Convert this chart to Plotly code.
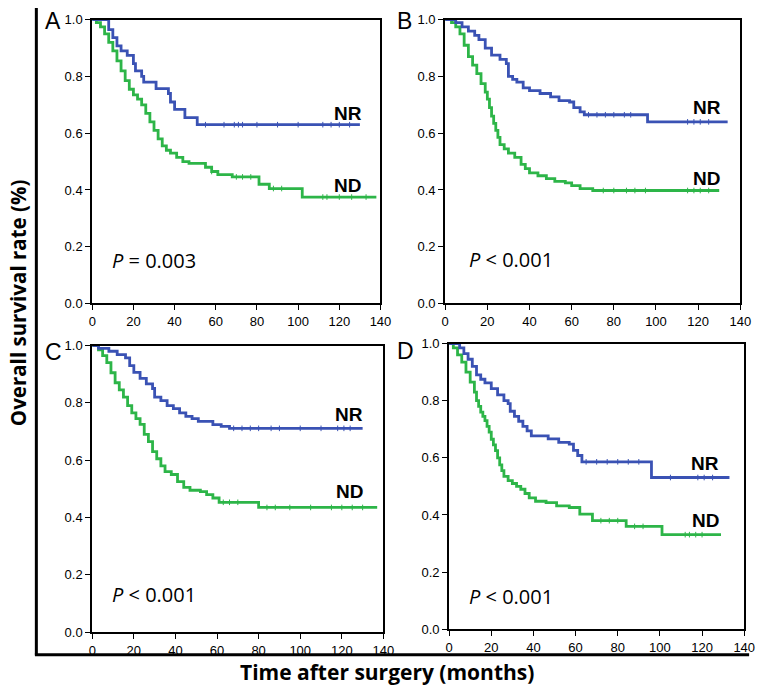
import plotly.graph_objects as go

BLUE = "#3a52b4"
GREEN = "#2db548"

# ---- panel A ----
a_nr_t = [0, 8, 10, 12, 14, 17, 20, 21, 24, 25, 31, 37, 38, 40, 45, 51, 130]
a_nr_s = [1.0, 0.965, 0.937, 0.908, 0.89, 0.874, 0.845, 0.82, 0.80, 0.78, 0.757, 0.74, 0.71, 0.684, 0.655, 0.63, 0.63]
a_nr_cens = [55, 64, 69, 71, 73, 80, 90, 100, 112, 116, 120, 125]
a_nd_t = [0, 2, 4, 6, 8, 10, 12, 14, 16, 18, 20, 22, 24, 26, 28, 30, 32, 34, 36, 38, 41, 44, 47, 55, 58, 61, 68, 81, 86, 102, 138]
a_nd_s = [1.0, 0.99, 0.975, 0.95, 0.92, 0.89, 0.855, 0.82, 0.785, 0.755, 0.735, 0.72, 0.70, 0.67, 0.64, 0.61, 0.58, 0.555, 0.54, 0.53, 0.515, 0.50, 0.494, 0.48, 0.465, 0.454, 0.446, 0.42, 0.405, 0.375, 0.375]
a_nd_cens = [58, 70, 73, 77, 88, 92, 112, 114, 120, 126, 133]

# ---- panel B ----
b_nr_t = [0, 5, 8, 11, 14, 16, 19, 22, 26, 29, 30, 32, 34, 37, 40, 45, 50, 54, 59, 61, 64, 66, 96, 134]
b_nr_s = [1.0, 0.99, 0.975, 0.96, 0.945, 0.93, 0.90, 0.875, 0.86, 0.845, 0.80, 0.79, 0.78, 0.76, 0.75, 0.74, 0.728, 0.715, 0.71, 0.69, 0.675, 0.665, 0.64, 0.64]
b_nr_cens = [68, 72, 76, 80, 85, 88, 115, 118, 121, 125]
b_nd_t = [0, 3, 5, 7, 9, 11, 13, 15, 17, 19, 20, 21, 22, 23, 24, 25, 26, 28, 30, 33, 36, 38, 40, 44, 48, 52, 57, 60, 64, 70, 130]
b_nd_s = [1.0, 0.99, 0.975, 0.95, 0.91, 0.87, 0.84, 0.81, 0.775, 0.745, 0.72, 0.69, 0.66, 0.635, 0.61, 0.585, 0.56, 0.545, 0.53, 0.515, 0.49, 0.475, 0.46, 0.45, 0.44, 0.43, 0.425, 0.415, 0.405, 0.398, 0.398]
b_nd_cens = [75, 80, 86, 90, 95, 115, 118, 121, 125]

# ---- panel C ----
c_nr_t = [0, 3, 8, 12, 16, 18, 20, 23, 26, 29, 30, 33, 36, 39, 42, 45, 48, 51, 58, 62, 66, 130]
c_nr_s = [1.0, 0.99, 0.98, 0.968, 0.957, 0.93, 0.906, 0.885, 0.866, 0.85, 0.82, 0.808, 0.79, 0.78, 0.765, 0.753, 0.745, 0.735, 0.724, 0.718, 0.711, 0.711]
c_nr_cens = [68, 72, 76, 80, 86, 90, 100, 110, 118, 121, 124]
c_nd_t = [0, 3, 5, 7, 9, 11, 13, 15, 17, 19, 21, 23, 25, 27, 29, 31, 33, 35, 38, 41, 44, 47, 52, 55, 58, 61, 80, 137]
c_nd_s = [1.0, 0.985, 0.965, 0.94, 0.905, 0.87, 0.845, 0.82, 0.79, 0.765, 0.745, 0.725, 0.69, 0.665, 0.63, 0.605, 0.58, 0.56, 0.55, 0.525, 0.505, 0.495, 0.49, 0.48, 0.468, 0.453, 0.435, 0.435]
c_nd_cens = [63, 66, 70, 84, 88, 95, 105, 115, 120, 125, 130]

# ---- panel D ----
d_nr_t = [0, 5, 7, 9, 11, 13, 15, 17, 20, 23, 26, 28, 29, 31, 33, 35, 37, 39, 47, 52, 57, 59, 61, 63, 96, 133]
d_nr_s = [1.0, 0.985, 0.965, 0.945, 0.92, 0.89, 0.875, 0.862, 0.842, 0.82, 0.80, 0.79, 0.763, 0.745, 0.728, 0.71, 0.694, 0.677, 0.666, 0.654, 0.648, 0.626, 0.608, 0.586, 0.531, 0.531]
d_nr_cens = [65, 70, 75, 80, 85, 90, 105, 118, 121, 125]
d_nd_t = [0, 2, 4, 6, 8, 10, 12, 13, 14, 15, 16, 17, 18, 19, 20, 21, 22, 23, 24, 25, 26, 28, 30, 32, 34, 36, 38, 41, 46, 51, 57, 62, 68, 84, 101, 129]
d_nd_s = [1.0, 0.985, 0.96, 0.935, 0.90, 0.865, 0.83, 0.80, 0.78, 0.76, 0.745, 0.73, 0.71, 0.69, 0.665, 0.645, 0.625, 0.60, 0.575, 0.555, 0.535, 0.52, 0.51, 0.50, 0.49, 0.475, 0.46, 0.448, 0.443, 0.432, 0.426, 0.403, 0.38, 0.36, 0.331, 0.331]
d_nd_cens = [72, 76, 80, 88, 92, 112, 114, 117, 120]

p_texts = ["<i>P</i> = 0.003", "<i>P</i> &lt; 0.001", "<i>P</i> &lt; 0.001", "<i>P</i> &lt; 0.001"]
letters = ["A", "B", "C", "D"]
x_ticks = [0, 20, 40, 60, 80, 100, 120, 140]
y_ticks = [0.0, 0.2, 0.4, 0.6, 0.8, 1.0]

W, H = 766, 692


def step_at(t, s, x):
    v = s[0]
    for ti, si in zip(t, s):
        if ti <= x:
            v = si
    return v


panels = [
    (a_nr_t, a_nr_s, a_nr_cens, a_nd_t, a_nd_s, a_nd_cens),
    (b_nr_t, b_nr_s, b_nr_cens, b_nd_t, b_nd_s, b_nd_cens),
    (c_nr_t, c_nr_s, c_nr_cens, c_nd_t, c_nd_s, c_nd_cens),
    (d_nr_t, d_nr_s, d_nr_cens, d_nd_t, d_nd_s, d_nd_cens),
]

# plot boxes in pixels (left, top, right, bottom)
boxes = [(90, 13, 384, 303), (450, 13, 751, 303), (90, 346, 387, 639), (454, 344, 755, 636)]
# NR / ND / P label spots in data units
nr_pos = [(124, 0.67), (124, 0.69), (123.6, 0.76), (121.6, 0.58)]
nd_pos = [(124, 0.414), (124, 0.44), (123.6, 0.49), (121.6, 0.38)]
p_pos = [(8.6, 0.152), (10.2, 0.155), (8.5, 0.133), (8.4, 0.116)]
letter_pos = [(50, 14), (408, 14), (50, 353), (410, 352)]

fig = go.Figure()
annotations = []
tick_font = dict(family="Liberation Sans, Arial", size=13, color="black")

for i, (nr_t, nr_s, nr_c, nd_t, nd_s, nd_c) in enumerate(panels):
    n = "" if i == 0 else str(i + 1)
    xa, ya = "x" + n, "y" + n
    for t, s, c, col in [(nd_t, nd_s, nd_c, GREEN), (nr_t, nr_s, nr_c, BLUE)]:
        fig.add_trace(go.Scatter(x=t, y=s, mode="lines", line=dict(color=col, width=2.8, shape="hv"),
                                 xaxis=xa, yaxis=ya, showlegend=False, hoverinfo="skip"))
        fig.add_trace(go.Scatter(x=c, y=[step_at(t, s, v) for v in c], mode="markers",
                                 marker=dict(symbol="line-ns", size=4, line=dict(color=col, width=1)),
                                 xaxis=xa, yaxis=ya, showlegend=False, hoverinfo="skip"))
    l, tp, r, b = boxes[i]
    common = dict(showline=True, linecolor="black", linewidth=2, mirror=True, ticks="outside",
                  ticklen=5, tickwidth=1.2, tickcolor="black", showgrid=False, zeroline=False,
                  tickfont=tick_font, fixedrange=True)
    fig.layout["xaxis" + n] = dict(domain=[l / W, r / W], anchor=ya, range=[0, 140],
                                   tickvals=x_ticks, **common)
    fig.layout["yaxis" + n] = dict(domain=[1 - b / H, 1 - tp / H], anchor=xa, range=[0, 1],
                                   tickvals=y_ticks, tickformat=".1f", **common)
    lab = dict(family="Liberation Sans, Arial", size=19, color="black")
    annotations.append(dict(x=nr_pos[i][0], y=nr_pos[i][1], xref=xa, yref=ya, text="<b>NR</b>",
                            xanchor="center", yanchor="middle", showarrow=False, font=lab))
    annotations.append(dict(x=nd_pos[i][0], y=nd_pos[i][1], xref=xa, yref=ya, text="<b>ND</b>",
                            xanchor="center", yanchor="middle", showarrow=False, font=lab))
    annotations.append(dict(x=p_pos[i][0], y=p_pos[i][1], xref=xa, yref=ya, text=p_texts[i],
                            xanchor="left", yanchor="middle", showarrow=False,
                            font=dict(family="Open Sans", size=20, color="black")))
    lx, ly = letter_pos[i]
    annotations.append(dict(x=lx / W, y=1 - ly / H, xref="paper", yref="paper", text=letters[i],
                            xanchor="center", yanchor="middle", showarrow=False,
                            font=dict(family="Liberation Sans, Arial", size=23, color="black")))

annotations.append(dict(x=15 / W, y=1 - 302 / H, xref="paper", yref="paper", textangle=-90,
                        xanchor="center", yanchor="middle",
                        text="<b>Overall survival rate (%)</b>", showarrow=False,
                        font=dict(family="Open Sans", size=20.5, color="black")))
annotations.append(dict(x=391 / W, y=1 - 680 / H, xref="paper", yref="paper",
                        xanchor="center", yanchor="middle",
                        text="<b>Time after surgery (months)</b>", showarrow=False,
                        font=dict(family="Open Sans", size=21, color="black")))

shapes = [
    dict(type="line", xref="paper", yref="paper", x0=33 / W, x1=33 / W, y0=1 - 1 / H, y1=1 - 662 / H,
         line=dict(color="black", width=3)),
    dict(type="line", xref="paper", yref="paper", x0=31.5 / W, x1=760 / W, y0=1 - 662 / H, y1=1 - 662 / H,
         line=dict(color="black", width=3)),
]

fig.update_layout(width=W, height=H, margin=dict(l=0, r=0, t=0, b=0),
                  paper_bgcolor="white", plot_bgcolor="white",
                  annotations=annotations, shapes=shapes)

# drop the browser's default page margin so the figure sits at the top-left corner
fig.write_html("out.html", config={"displayModeBar": False},
               post_script="document.body.style.margin='0px';")
